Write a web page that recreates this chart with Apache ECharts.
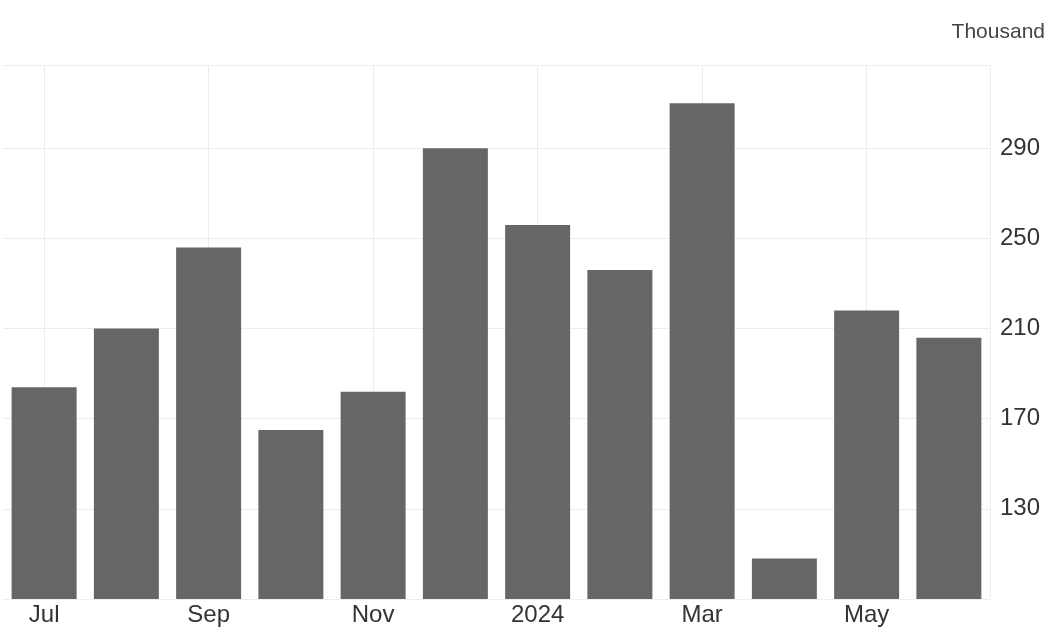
<!DOCTYPE html>
<html>
<head>
<meta charset="utf-8">
<script src="https://cdn.jsdelivr.net/npm/echarts@6/dist/echarts.min.js"></script>
<style>
html,body{margin:0;padding:0;background:#fff;}
#c{width:1048px;height:628px;}
</style>
</head>
<body>
<div id="c"></div>
<script>
const categories = ['Jul','Aug','Sep','Oct','Nov','Dec','2024','Feb','Mar','Apr','May','Jun'];
const values = [184, 210, 246, 165, 182, 290, 256, 236, 310, 108, 218, 206];
const unitLabel = 'Thousand';

const chart = echarts.init(document.getElementById('c'));
chart.setOption({
  backgroundColor: '#ffffff',
  animation: false,
  graphic: [{
    type: 'text',
    right: 3,
    top: 22,
    style: { text: unitLabel, fontSize: 21, fill: '#444', fontFamily: 'Liberation Sans, Arial, sans-serif' }
  }],
  grid: { left: 3, right: 58, top: 65, bottom: 29 },
  xAxis: {
    type: 'category',
    data: categories,
    boundaryGap: true,
    axisLine: { show: true, lineStyle: { color: '#eeeeee' } },
    axisTick: { show: false },
    axisLabel: {
      interval: 1,
      margin: 4,
      fontSize: 24,
      color: '#333',
      fontFamily: 'Liberation Sans, Arial, sans-serif'
    },
    splitLine: { show: true, interval: 1, alignWithLabel: true, lineStyle: { color: '#ececec', width: 1 } }
  },
  yAxis: {
    type: 'value',
    position: 'right',
    min: 90,
    max: 327,
    interval: 40,
    axisLine: { show: true, lineStyle: { color: '#eeeeee' } },
    axisTick: { show: false },
    axisLabel: {
      margin: 10,
      fontSize: 24,
      color: '#333',
      padding: [0, 0, 6, 0],
      showMinLabel: false,
      showMaxLabel: false,
      fontFamily: 'Liberation Sans, Arial, sans-serif'
    },
    splitLine: { show: true, lineStyle: { color: '#ececec', width: 1 } }
  },
  series: [{
    type: 'bar',
    data: values,
    barCategoryGap: '21%',
    itemStyle: { color: '#666666' }
  }]
});
</script>
</body>
</html>
